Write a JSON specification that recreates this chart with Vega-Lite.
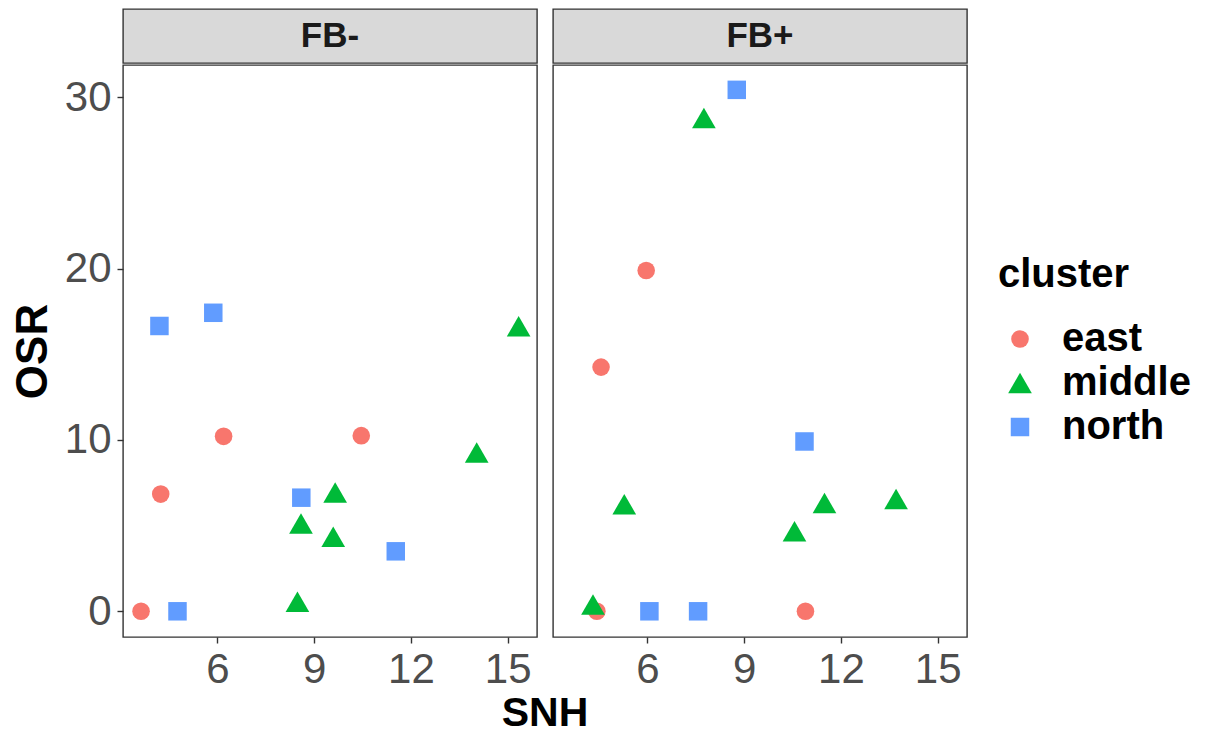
{
  "$schema": "https://vega.github.io/schema/vega-lite/v6.json",
  "padding": {"left": 10, "top": 8, "right": 5, "bottom": 2},
  "background": "white",
  "title": {"text": "SNH", "orient": "bottom", "anchor": "middle", "frame": "group", "dx": 422, "fontSize": 41, "fontWeight": "bold", "color": "#000000", "font": "Liberation Sans", "offset": 3},
  "data": {"values": [
    {"FB": "FB-", "cluster": "east", "SNH": 3.63, "OSR": 0},
    {"FB": "FB-", "cluster": "east", "SNH": 4.24, "OSR": 6.84},
    {"FB": "FB-", "cluster": "east", "SNH": 6.19, "OSR": 10.21},
    {"FB": "FB-", "cluster": "east", "SNH": 10.46, "OSR": 10.25},
    {"FB": "FB-", "cluster": "middle", "SNH": 8.48, "OSR": 0.56},
    {"FB": "FB-", "cluster": "middle", "SNH": 8.59, "OSR": 5.13},
    {"FB": "FB-", "cluster": "middle", "SNH": 9.59, "OSR": 4.35},
    {"FB": "FB-", "cluster": "middle", "SNH": 9.65, "OSR": 6.93},
    {"FB": "FB-", "cluster": "middle", "SNH": 14.04, "OSR": 9.27},
    {"FB": "FB-", "cluster": "middle", "SNH": 15.34, "OSR": 16.63},
    {"FB": "FB-", "cluster": "north", "SNH": 4.2, "OSR": 16.65},
    {"FB": "FB-", "cluster": "north", "SNH": 5.87, "OSR": 17.42},
    {"FB": "FB-", "cluster": "north", "SNH": 4.76, "OSR": 0},
    {"FB": "FB-", "cluster": "north", "SNH": 8.6, "OSR": 6.63},
    {"FB": "FB-", "cluster": "north", "SNH": 11.53, "OSR": 3.5},
    {"FB": "FB+", "cluster": "east", "SNH": 4.43, "OSR": 0},
    {"FB": "FB+", "cluster": "east", "SNH": 4.56, "OSR": 14.25},
    {"FB": "FB+", "cluster": "east", "SNH": 5.96, "OSR": 19.89},
    {"FB": "FB+", "cluster": "east", "SNH": 10.9, "OSR": 0},
    {"FB": "FB+", "cluster": "middle", "SNH": 4.31, "OSR": 0.39},
    {"FB": "FB+", "cluster": "middle", "SNH": 5.28, "OSR": 6.25},
    {"FB": "FB+", "cluster": "middle", "SNH": 7.75, "OSR": 28.78},
    {"FB": "FB+", "cluster": "middle", "SNH": 10.56, "OSR": 4.67},
    {"FB": "FB+", "cluster": "middle", "SNH": 11.49, "OSR": 6.32},
    {"FB": "FB+", "cluster": "middle", "SNH": 13.71, "OSR": 6.55},
    {"FB": "FB+", "cluster": "north", "SNH": 6.06, "OSR": 0},
    {"FB": "FB+", "cluster": "north", "SNH": 7.57, "OSR": 0},
    {"FB": "FB+", "cluster": "north", "SNH": 8.77, "OSR": 30.43},
    {"FB": "FB+", "cluster": "north", "SNH": 10.87, "OSR": 9.91}
  ]},
  "config": {
    "font": "Liberation Sans",
    "view": {"stroke": "#333333", "strokeWidth": 1.4},
    "axis": {
      "grid": false, "domain": false,
      "tickColor": "#333333", "tickSize": 6, "tickWidth": 1.4,
      "labelColor": "#4D4D4D", "labelFontSize": 42, "labelPadding": 6, "labelFont": "Liberation Sans",
      "titleFontSize": 44, "titleFontWeight": "bold", "titleColor": "#000000", "titleFont": "Liberation Sans"
    },
    "legend": {
      "orient": "none", "legendX": 875, "legendY": 246,
      "titleFontSize": 40, "titleFontWeight": "bold", "titleColor": "#000000", "titleFont": "Liberation Sans",
      "labelFontSize": 40, "labelFontWeight": "bold", "labelColor": "#000000", "labelFont": "Liberation Sans",
      "rowPadding": 4, "titlePadding": 24, "labelOffset": 22, "symbolOffset": 2, "symbolStrokeWidth": 0
    }
  },
  "spacing": 14,
  "hconcat": [
    {
      "spacing": 0,
      "vconcat": [
        {
          "width": 414, "height": 54,
          "view": {"fill": "#D9D9D9", "stroke": "#333333", "strokeWidth": 1.4},
          "transform": [{"filter": "datum.FB === 'FB-'"}, {"aggregate": [{"op": "count", "as": "n"}], "groupby": ["FB"]}],
          "mark": {"type": "text", "fontSize": 35, "fontWeight": "bold", "color": "#1A1A1A", "font": "Liberation Sans"},
          "encoding": {"text": {"field": "FB", "type": "nominal"}}
        },
        {
          "width": 414, "height": 572,
          "transform": [{"filter": "datum.FB === 'FB-'"}],
          "mark": {"type": "point", "filled": true, "opacity": 1},
          "encoding": {
            "x": {"field": "SNH", "type": "quantitative", "scale": {"domain": [3.07, 15.91], "nice": false, "zero": false}, "axis": {"values": [6, 9, 12, 15], "title": null}},
            "y": {"field": "OSR", "type": "quantitative", "scale": {"domain": [-1.5, 31.88], "nice": false, "zero": false}, "axis": {"values": [0, 10, 20, 30], "title": "OSR", "titlePadding": 9}},
            "color": {"field": "cluster", "type": "nominal", "title": "cluster", "scale": {"domain": ["east", "middle", "north"], "range": ["#F8766D", "#00BA38", "#619CFF"]}},
            "shape": {"field": "cluster", "type": "nominal", "title": "cluster", "scale": {"domain": ["east", "middle", "north"], "range": ["circle", "triangle-up", "square"]}},
            "size": {"field": "cluster", "type": "nominal", "title": "cluster", "scale": {"type": "ordinal", "domain": ["east", "middle", "north"], "range": [310, 560, 342]}}
          }
        }
      ]
    },
    {
      "spacing": 0,
      "vconcat": [
        {
          "width": 414, "height": 54,
          "view": {"fill": "#D9D9D9", "stroke": "#333333", "strokeWidth": 1.4},
          "transform": [{"filter": "datum.FB === 'FB+'"}, {"aggregate": [{"op": "count", "as": "n"}], "groupby": ["FB"]}],
          "mark": {"type": "text", "fontSize": 35, "fontWeight": "bold", "color": "#1A1A1A", "font": "Liberation Sans"},
          "encoding": {"text": {"field": "FB", "type": "nominal"}}
        },
        {
          "width": 414, "height": 572,
          "transform": [{"filter": "datum.FB === 'FB+'"}],
          "mark": {"type": "point", "filled": true, "opacity": 1},
          "encoding": {
            "x": {"field": "SNH", "type": "quantitative", "scale": {"domain": [3.07, 15.91], "nice": false, "zero": false}, "axis": {"values": [6, 9, 12, 15], "title": null}},
            "y": {"field": "OSR", "type": "quantitative", "scale": {"domain": [-1.5, 31.88], "nice": false, "zero": false}, "axis": null},
            "color": {"field": "cluster", "type": "nominal", "title": "cluster", "scale": {"domain": ["east", "middle", "north"], "range": ["#F8766D", "#00BA38", "#619CFF"]}},
            "shape": {"field": "cluster", "type": "nominal", "title": "cluster", "scale": {"domain": ["east", "middle", "north"], "range": ["circle", "triangle-up", "square"]}},
            "size": {"field": "cluster", "type": "nominal", "title": "cluster", "scale": {"type": "ordinal", "domain": ["east", "middle", "north"], "range": [310, 560, 342]}}
          }
        }
      ]
    }
  ]
}
